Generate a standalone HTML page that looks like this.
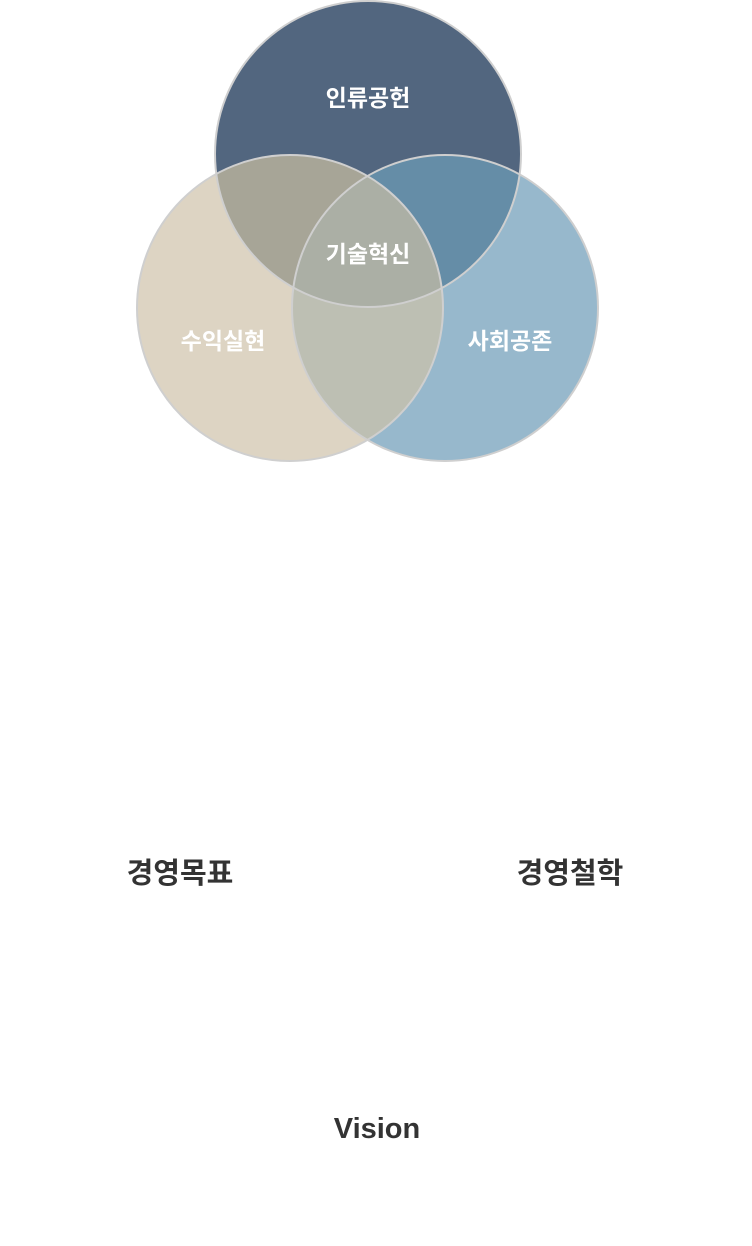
<!DOCTYPE html>
<html><head><meta charset="utf-8"><style>
html,body{margin:0;padding:0;background:#fff;width:752px;height:1246px;overflow:hidden}
svg{display:block}
text{font-family:"Liberation Sans","Noto Sans CJK KR",sans-serif}
</style></head><body>
<svg width="752" height="1246" viewBox="0 0 752 1246">
<defs>
<clipPath id="cT"><circle cx="368" cy="154" r="153"/></clipPath>
<clipPath id="cL"><circle cx="290" cy="308" r="153"/></clipPath>
<clipPath id="cR"><circle cx="445" cy="308" r="153"/></clipPath>
</defs>
<circle cx="368" cy="154" r="153" fill="#52667f"/>
<circle cx="290" cy="308" r="153" fill="#ddd4c3"/>
<circle cx="445" cy="308" r="153" fill="#97b8cc"/>
<circle cx="290" cy="308" r="153" fill="#a7a597" clip-path="url(#cT)"/>
<circle cx="445" cy="308" r="153" fill="#658da7" clip-path="url(#cT)"/>
<circle cx="445" cy="308" r="153" fill="#bdbfb3" clip-path="url(#cL)"/>
<g clip-path="url(#cT)"><circle cx="445" cy="308" r="153" fill="#abafa5" clip-path="url(#cL)"/></g>
<g fill="none" stroke="#cfcfcf" stroke-width="2">
<circle cx="368" cy="154" r="153"/>
<circle cx="290" cy="308" r="153"/>
<circle cx="445" cy="308" r="153"/>
</g>
<g fill="#fff" font-size="23" font-weight="bold" text-anchor="middle">
<text x="368" y="106">인류공헌</text>
<text x="368" y="262">기술혁신</text>
<text x="223" y="349">수익실현</text>
<text x="510" y="349">사회공존</text>
</g>
<g fill="#333" font-size="29" font-weight="bold" text-anchor="middle">
<text x="180" y="883">경영목표</text>
<text x="570" y="883">경영철학</text>
<text x="377" y="1138">Vision</text>
</g>
</svg>
</body></html>
